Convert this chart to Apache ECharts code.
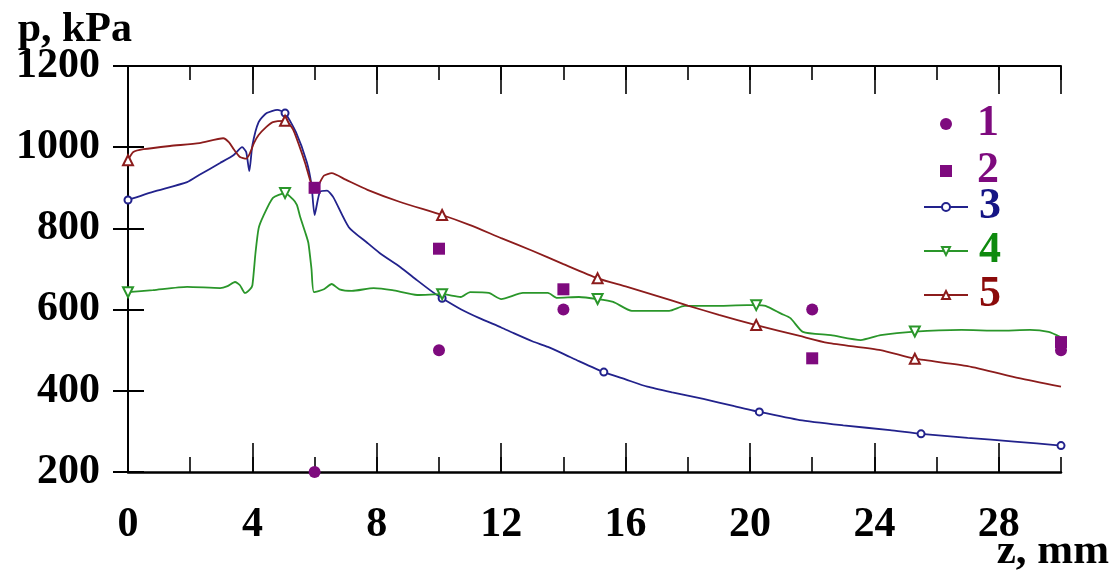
<!DOCTYPE html>
<html>
<head>
<meta charset="utf-8">
<script src="https://cdn.jsdelivr.net/npm/echarts@6/dist/echarts.min.js"></script>
<style>
html,body{margin:0;padding:0;background:#fff;}
#chart{width:1117px;height:580px;}
</style>
</head>
<body>
<div id="chart"></div>
<script>
// ---- data ----
const xTicks = [0, 4, 8, 12, 16, 20, 24, 28];
const yTicks = [200, 400, 600, 800, 1000, 1200];

// series 1 (dots) and 2 (squares)
const z1 = [6, 10, 14, 22, 30];
const p1 = [200, 500, 600, 600, 500];
const z2 = [6, 10, 14, 22, 30];
const p2 = [900, 750, 650, 480, 520];

// series 3 (blue)
const z3 = [0, 0.8, 1.9, 2.3, 2.96, 3.4, 3.67, 3.8, 3.9, 4.0, 4.2, 4.46, 4.8, 5.05, 5.4, 5.75, 5.9, 6.0, 6.17, 6.4,
  6.6, 7.1, 7.7, 8.1, 8.75, 9.3, 9.8, 10.1, 10.7, 11.3, 12, 12.4, 13, 13.5, 14, 14.5, 15.3, 16, 16.7, 17.5, 18.5,
  19.5, 20.3, 21.6, 23, 24.5, 25.5, 27, 28.5, 30];
const p3 = [870, 890, 914, 932, 961, 981, 1000, 988, 941, 1005, 1062, 1084, 1092, 1084, 1037, 963, 907, 833, 890, 893,
  877, 803, 764, 739, 705, 672, 643, 628, 601, 579, 556, 542, 522, 508, 491, 473, 446, 428, 410, 396, 380,
  362, 348, 328, 315, 303, 294, 284, 275, 265];
const mark3 = [0, 5.05, 10.1, 15.3, 20.3, 25.5, 30];

// series 4 (green)
const z4 = [0, 0.8, 1.9, 2.96, 3.2, 3.44, 3.6, 3.76, 3.92, 4.0, 4.1, 4.2, 4.35, 4.66, 5.05, 5.3, 5.43, 5.53, 5.7, 5.8,
  5.9, 5.98, 6.3, 6.55, 6.8, 7.2, 7.9, 8.5, 9.3, 10.1, 10.7, 11.0, 11.6, 12.0, 12.7, 13.5, 13.8, 14.5, 15.1, 15.6,
  16.2, 17.4, 17.9, 18.8, 19.9, 20.2, 20.5, 21.0, 21.3, 21.7, 22.6, 23.56, 24.2, 25.3, 26.8, 28, 29, 29.6, 30];
const p4 = [643, 648, 656, 653, 658, 668, 660, 641, 650, 660, 740, 800, 830, 875, 887, 872, 858, 830, 790, 764,
  700, 643, 650, 663, 650, 646, 653, 648, 636, 638, 631, 643, 641, 626, 641, 641, 629, 631, 626, 619,
  597, 597, 609, 609, 611, 611, 609, 590, 579, 545, 537, 525, 537, 546, 550, 548, 550, 545, 532];
const mark4 = [0, 5.05, 10.1, 15.1, 20.2, 25.3];

// series 5 (red)
const z5 = [0, 0.17, 0.5, 1.35, 2.3, 3.06, 3.25, 3.4, 3.6, 3.8, 3.92, 4.05, 4.2, 4.45, 4.66, 5.05, 5.3, 5.5, 5.7, 5.85,
  5.95, 6.05, 6.15, 6.3, 6.55, 7, 7.7, 8.75, 10.1, 11, 12, 13, 14, 15.1, 16, 17, 18, 19, 20.2, 21.6,
  22.5, 24.2, 25.3, 27, 28.65, 30];
const p5 = [968, 988, 995, 1003, 1010, 1022, 1012, 995, 976, 972, 985, 1010, 1030, 1050, 1062, 1065, 1045, 1005, 960, 920,
  900, 892, 910, 930, 936, 920, 895, 865, 833, 808, 776, 745, 712, 677, 657, 634, 610, 587, 562, 535,
  518, 500, 479, 461, 431, 410];
const mark5 = [0, 5.05, 10.1, 15.1, 20.2, 25.3];

const names = ['1', '2', '3', '4', '5'];
// ---- style ----
const FONT = 'Liberation Serif';
const cPurple = '#7e0a7e';
const cBlue = '#22228c';
const cGreen = '#2a962a';
const cRed = '#8c1c1c';

function pairs(zs, ps) { return zs.map((z, i) => [z, ps[i]]); }
function lineData(zs, ps, marks) {
  return zs.map((z, i) => marks.indexOf(z) >= 0 ? { value: [z, ps[i]] } : { value: [z, ps[i]], symbol: 'none' });
}

const chart = echarts.init(document.getElementById('chart'), null, { renderer: 'canvas' });

const labelStyle = { fontFamily: FONT, fontWeight: 'bold', fontSize: 42, color: '#000' };
const baseX = { type: 'value', min: 0, max: 30, splitLine: { show: false } };

const option = {
  backgroundColor: '#fff',
  animation: false,
  grid: { left: 128, right: 56, top: 66, bottom: 108, containLabel: false, outerBoundsMode: 'none' },
  xAxis: [
    Object.assign({}, baseX, {
      position: 'bottom', interval: 4,
      axisLine: { show: true, lineStyle: { color: '#000', width: 2.5 } },
      axisTick: { show: true, inside: true, length: 29, lineStyle: { color: '#000', width: 1.6 } },
      axisLabel: Object.assign({ showMaxLabel: false, margin: 32, formatter: v => (xTicks.indexOf(v) >= 0 ? String(v) : '') }, labelStyle),
      name: 'z, mm', nameLocation: 'end', nameGap: 48, nameMoveOverlap: false,
      nameTextStyle: { fontFamily: FONT, fontWeight: 'bold', fontSize: 43, color: '#000', align: 'right', verticalAlign: 'top', padding: [58, 0, 0, 0] }
    }),
    Object.assign({}, baseX, {
      position: 'bottom', interval: 2,
      axisLine: { show: false },
      axisTick: { show: true, inside: true, length: 15, lineStyle: { color: '#000', width: 1.6 } },
      axisLabel: { show: false }
    }),
    Object.assign({}, baseX, {
      position: 'top', interval: 4,
      axisLine: { show: true, lineStyle: { color: '#000', width: 2 } },
      axisTick: { show: true, inside: true, length: 28, lineStyle: { color: '#000', width: 1.6 } },
      axisLabel: { show: false }
    }),
    Object.assign({}, baseX, {
      position: 'top', interval: 2,
      axisLine: { show: false },
      axisTick: { show: true, inside: true, length: 14, lineStyle: { color: '#000', width: 1.6 } },
      axisLabel: { show: false }
    })
  ],
  yAxis: [
    {
      type: 'value', position: 'left', min: yTicks[0], max: yTicks[yTicks.length - 1], interval: 200,
      splitLine: { show: false },
      axisLine: { show: true, lineStyle: { color: '#8c8c8c', width: 2 } },
      axisTick: { show: true, inside: true, length: 16, lineStyle: { color: '#000', width: 2 } },
      axisLabel: Object.assign({ margin: 28, formatter: v => String(v) }, labelStyle),
      name: 'p, kPa', nameLocation: 'end', nameGap: 15, nameMoveOverlap: false,
      nameTextStyle: { fontFamily: FONT, fontWeight: 'bold', fontSize: 42, color: '#000', align: 'right', verticalAlign: 'bottom', padding: [0, -4, 0, 0] }
    },
    {
      type: 'value', position: 'right', min: yTicks[0], max: yTicks[yTicks.length - 1], interval: 200,
      splitLine: { show: false },
      axisLine: { show: true, lineStyle: { color: '#000', width: 2 } },
      axisTick: { show: true, inside: true, length: 15, lineStyle: { color: '#000', width: 2 } },
      axisLabel: { show: false }
    }
  ],
  legend: [
    {
      orient: 'vertical', left: 940, top: 102, padding: 0, itemWidth: 12, itemHeight: 12, itemGap: 3,
      data: [
        { name: names[0], icon: 'circle', textStyle: { color: cPurple } },
        { name: names[1], icon: 'rect', textStyle: { color: cPurple } }
      ],
      textStyle: { fontFamily: FONT, fontWeight: 'bold', fontSize: 44, lineHeight: 40, padding: [0, 0, 0, 20] }
    },
    {
      orient: 'vertical', left: 923, top: 185, padding: 0, itemWidth: 44, itemHeight: 10, itemGap: 0,
      data: [
        { name: names[2], textStyle: { color: '#151585' } },
        { name: names[3], textStyle: { color: '#0e8a0e' } },
        { name: names[4], textStyle: { color: '#8b0a0a' } }
      ],
      textStyle: { fontFamily: FONT, fontWeight: 'bold', fontSize: 44, lineHeight: 40, padding: [0, 0, 0, 6] }
    }
  ],
  series: [
    {
      name: names[2], type: 'line', xAxisIndex: 0, yAxisIndex: 0, smooth: 0.2,
      data: lineData(z3, p3, mark3), symbol: 'emptyCircle', symbolSize: 7,
      lineStyle: { color: cBlue, width: 1.8 }, itemStyle: { color: cBlue, borderWidth: 1.5 }, z: 3
    },
    {
      name: names[3], type: 'line', xAxisIndex: 0, yAxisIndex: 0, smooth: 0.2,
      data: lineData(z4, p4, mark4), symbol: 'emptyTriangle', symbolRotate: 180, symbolSize: 10,
      lineStyle: { color: cGreen, width: 1.8 }, itemStyle: { color: cGreen, borderWidth: 1.5 }, z: 3
    },
    {
      name: names[4], type: 'line', xAxisIndex: 0, yAxisIndex: 0, smooth: 0.2,
      data: lineData(z5, p5, mark5), symbol: 'emptyTriangle', symbolSize: 10,
      lineStyle: { color: cRed, width: 1.8 }, itemStyle: { color: cRed, borderWidth: 1.5 }, z: 4
    },
    {
      name: names[0], type: 'scatter', xAxisIndex: 0, yAxisIndex: 0,
      data: pairs(z1, p1), symbol: 'circle', symbolSize: 12,
      itemStyle: { color: cPurple, opacity: 1 }, z: 5
    },
    {
      name: names[1], type: 'scatter', xAxisIndex: 0, yAxisIndex: 0,
      data: pairs(z2, p2), symbol: 'rect', symbolSize: 12,
      itemStyle: { color: cPurple, opacity: 1 }, z: 5
    }
  ]
};
chart.setOption(option);
</script>
</body>
</html>
